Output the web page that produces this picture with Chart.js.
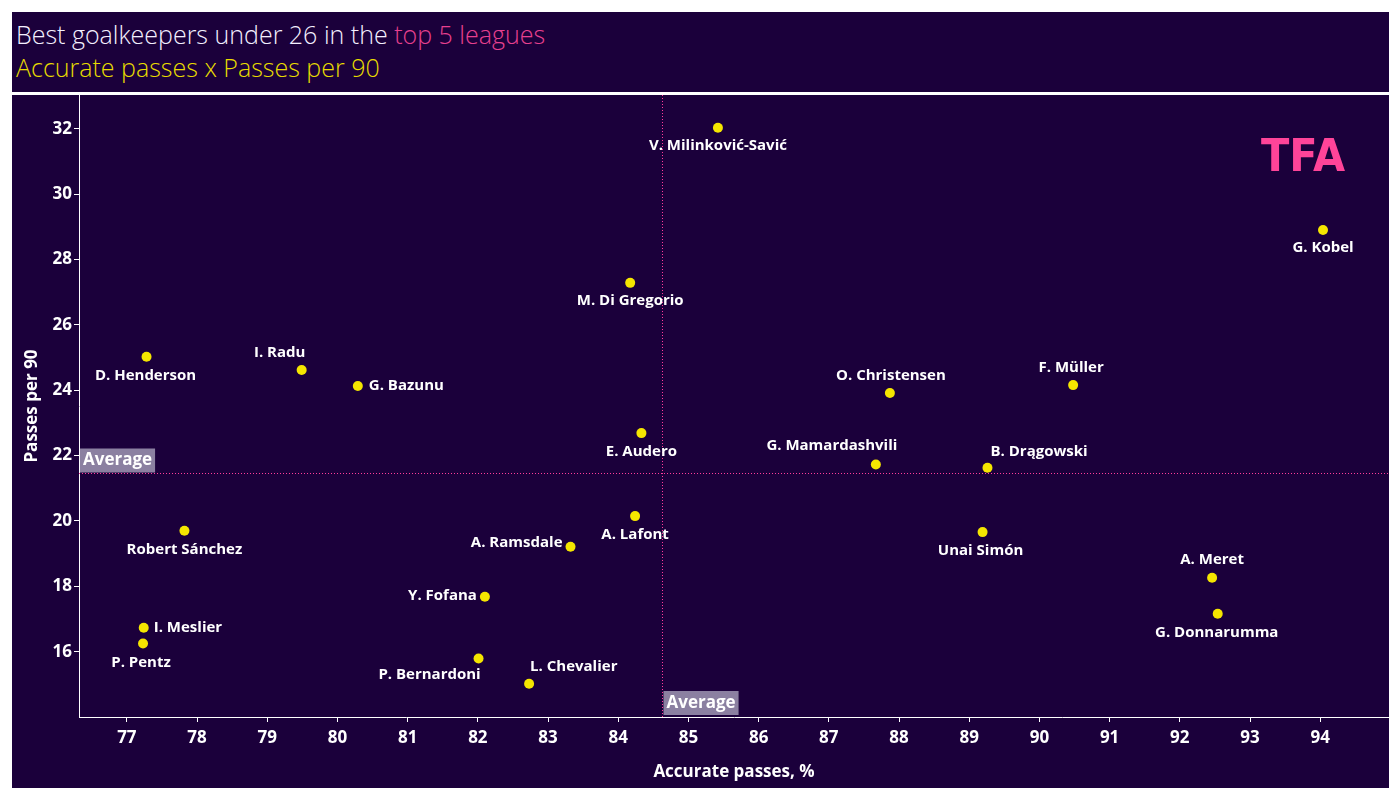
<!DOCTYPE html>
<html>
<head>
<meta charset="utf-8">
<script src="https://cdn.jsdelivr.net/npm/chart.js@4"></script>
<style>
  body { margin: 0; background: #ffffff; width: 1400px; height: 800px; overflow: hidden; }
  #header { position: absolute; left: 12px; top: 12px; width: 1377px; height: 80px; background: #1b003b; }
  #title { position: absolute; left: 4px; top: 5px; font: 300 25px "Open Sans", sans-serif; color: #f4f0ff; white-space: nowrap; }
  #title span { color: #e8408f; }
  #subtitle { position: absolute; left: 4px; top: 38px; font: 300 25px "Open Sans", sans-serif; color: #e8dc00; white-space: nowrap; }
  #chartBox { position: absolute; left: 12px; top: 95px; width: 1377px; height: 693px; background: #1b003b; }
</style>
</head>
<body>
<div id="header">
  <div id="title">Best goalkeepers under 26 in the <span>top 5 leagues</span></div>
  <div id="subtitle">Accurate passes x Passes per 90</div>
</div>
<div id="chartBox"><canvas id="chart" width="1377" height="693"></canvas></div>
<script>
// goalkeepers and their numbers
const names = [
  "V. Milinković-Savić", "G. Kobel", "M. Di Gregorio", "D. Henderson", "I. Radu",
  "G. Bazunu", "O. Christensen", "F. Müller", "E. Audero", "G. Mamardashvili",
  "B. Drągowski", "A. Lafont", "Robert Sánchez", "A. Ramsdale", "Unai Simón",
  "A. Meret", "G. Donnarumma", "Y. Fofana", "I. Meslier", "P. Pentz",
  "P. Bernardoni", "L. Chevalier"
];
const accuratePasses = [
  85.42, 94.04, 84.17, 77.28, 79.49,
  80.29, 87.87, 90.48, 84.33, 87.67,
  89.26, 84.24, 77.82, 83.32, 89.19,
  92.46, 92.54, 82.10, 77.24, 77.23,
  82.01, 82.73
];
const passesPer90 = [
  32.04, 28.91, 27.29, 25.03, 24.62,
  24.13, 23.92, 24.16, 22.69, 21.73,
  21.63, 20.15, 19.70, 19.21, 19.66,
  18.26, 17.16, 17.68, 16.73, 16.25,
  15.79, 15.02
];
const xTicks = [77, 78, 79, 80, 81, 82, 83, 84, 85, 86, 87, 88, 89, 90, 91, 92, 93, 94];
const yTicks = [16, 18, 20, 22, 24, 26, 28, 30, 32];
const avgAccuracy = 84.62;
const avgPasses = 21.46;

// where each name sits next to its dot: [dx, dy, align]
const labelPos = [
  [0, 18, "center"], [0, 18, "center"], [0, 18, "center"], [-1, 19, "center"], [-22, -17, "center"],
  [11, 0, "left"], [1, -17, "center"], [-2, -17, "center"], [0, 19, "center"], [-44, -19, "center"],
  [3, -16, "left"], [0, 19, "center"], [0, 19, "center"], [-8, -4, "right"], [-2, 19, "center"],
  [0, -18, "center"], [-1, 19, "center"], [-8, -1, "right"], [10, 0, "left"], [-2, 19, "center"],
  [-49, 16, "center"], [1, -17, "left"]
];

const points = names.map((n, i) => ({ x: accuratePasses[i], y: passesPer90[i] }));

const FONT = "'Open Sans', sans-serif";

// dotted average lines + grey "Average" tags
const averagePlugin = {
  id: "averages",
  beforeDatasetsDraw(chart) {
    const { ctx, chartArea, scales } = chart;
    const ax = Math.round(scales.x.getPixelForValue(avgAccuracy)) + 0.5;
    const ay = Math.round(scales.y.getPixelForValue(avgPasses)) + 0.5;
    ctx.save();
    ctx.strokeStyle = "#ff3d9a";
    ctx.lineWidth = 1;
    ctx.setLineDash([1, 2]);
    ctx.beginPath();
    ctx.moveTo(ax, chartArea.top);
    ctx.lineTo(ax, chartArea.bottom);
    ctx.moveTo(chartArea.left, ay);
    ctx.lineTo(chartArea.right, ay);
    ctx.stroke();
    ctx.setLineDash([]);

    ctx.font = "bold 17px " + FONT;
    ctx.textBaseline = "middle";
    ctx.textAlign = "left";
    const w = ctx.measureText("Average").width + 6;
    // horizontal line tag
    ctx.fillStyle = "#8b80a1";
    ctx.fillRect(chartArea.left + 1, ay - 25, w, 24);
    ctx.fillStyle = "#ffffff";
    ctx.fillText("Average", chartArea.left + 4, ay - 13);
    // vertical line tag
    ctx.fillStyle = "#8b80a1";
    ctx.fillRect(ax + 1, chartArea.bottom - 26, w, 24);
    ctx.fillStyle = "#ffffff";
    ctx.fillText("Average", ax + 4, chartArea.bottom - 14);
    ctx.restore();
  }
};

// player names
const namePlugin = {
  id: "names",
  afterDatasetsDraw(chart) {
    const { ctx } = chart;
    const meta = chart.getDatasetMeta(0);
    ctx.save();
    ctx.font = "bold 15px " + FONT;
    ctx.fillStyle = "#ffffff";
    ctx.textBaseline = "middle";
    meta.data.forEach((pt, i) => {
      const p = labelPos[i];
      ctx.textAlign = p[2];
      ctx.fillText(names[i], pt.x + p[0], pt.y + p[1]);
    });
    ctx.restore();
  }
};

// TFA logo top right
const logoPlugin = {
  id: "logo",
  afterDraw(chart) {
    const { ctx } = chart;
    ctx.save();
    ctx.font = "900 44px 'DejaVu Sans', sans-serif";
    ctx.fillStyle = "#ff4499";
    ctx.textBaseline = "alphabetic";
    ctx.textAlign = "left";
    const w = ctx.measureText("TFA").width;
    ctx.translate(1249, 76);
    ctx.scale(84 / w, 1);
    ctx.fillText("TFA", 0, 0);
    ctx.restore();
  }
};

new Chart(document.getElementById("chart"), {
  type: "scatter",
  data: {
    datasets: [{
      data: points,
      backgroundColor: "#f5e600",
      borderWidth: 0,
      pointRadius: 5,
      pointHoverRadius: 5
    }]
  },
  options: {
    responsive: false,
    animation: false,
    layout: { padding: 0, autoPadding: false },
    plugins: { legend: { display: false }, tooltip: { enabled: false } },
    scales: {
      x: {
        type: "linear",
        min: 76.318,
        max: 94.98,
        afterBuildTicks: (s) => { s.ticks = xTicks.map(v => ({ value: v })); },
        afterFit: (s) => { s.height = 71; s.paddingLeft = 0; s.paddingRight = 0; },
        grid: { drawOnChartArea: false, color: "#ffffff", tickLength: 5 },
        border: { color: "#ffffff", width: 1 },
        ticks: { color: "#ffffff", font: { family: FONT, size: 17, weight: "bold" }, padding: 6, maxRotation: 0 },
        title: { display: true, text: "Accurate passes, %", color: "#ffffff", font: { family: FONT, size: 17, weight: "bold" }, padding: { top: 0, bottom: 6 } }
      },
      y: {
        type: "linear",
        min: 14.0,
        max: 33.04,
        afterBuildTicks: (s) => { s.ticks = yTicks.map(v => ({ value: v })); },
        afterFit: (s) => { s.width = 67; s.paddingTop = 0; s.paddingBottom = 0; },
        grid: { drawOnChartArea: false, color: "#ffffff", tickLength: 5 },
        border: { color: "#ffffff", width: 1 },
        ticks: { color: "#ffffff", font: { family: FONT, size: 17, weight: "bold" }, padding: 2 },
        title: { display: true, text: "Passes per 90", color: "#ffffff", font: { family: FONT, size: 17, weight: "bold" }, padding: { top: 10, bottom: 0 } }
      }
    }
  },
  plugins: [averagePlugin, namePlugin, logoPlugin]
});
</script>
</body>
</html>
